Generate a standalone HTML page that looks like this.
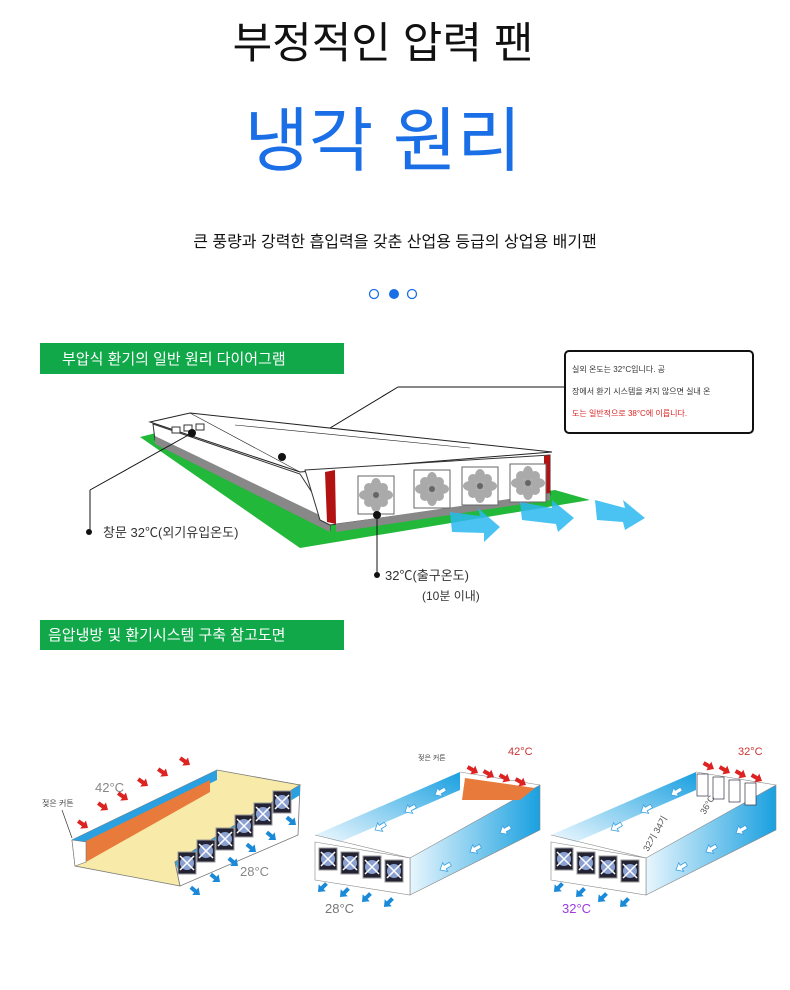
<!DOCTYPE html>
<html><head><meta charset="utf-8"><style>
body{margin:0;background:#fff;width:790px;height:990px;overflow:hidden;font-family:"Liberation Sans","Noto Sans CJK KR",sans-serif}
svg{display:block}
text{font-family:"Liberation Sans","Noto Sans CJK KR",sans-serif}
</style></head><body>
<svg width="790" height="990" viewBox="0 0 790 990" xmlns="http://www.w3.org/2000/svg">
<defs>
<linearGradient id="bl" x1="0" y1="0" x2="1" y2="0"><stop offset="0" stop-color="#e8f6fd"/><stop offset="1" stop-color="#1aa0e0"/></linearGradient>
<linearGradient id="bl2" x1="0" y1="1" x2="1" y2="0"><stop offset="0" stop-color="#f0f9ff"/><stop offset="1" stop-color="#1aa0e0"/></linearGradient>
<g id="fan"><rect x="0" y="0" width="18" height="22" fill="#223" stroke="#999" stroke-width="1"/><circle cx="9" cy="11" r="7" fill="#8aa0d0"/><path d="M2 4 L16 18 M16 4 L2 18" stroke="#fff" stroke-width="1.5"/></g>
<g id="bfan"><rect x="0" y="0" width="36" height="38" fill="#fff" stroke="#666"/><g fill="#aaa"><circle cx="18" cy="19" r="5"/><ellipse cx="18" cy="9" rx="5" ry="7"/><ellipse cx="18" cy="29" rx="5" ry="7"/><ellipse cx="8" cy="19" rx="7" ry="5"/><ellipse cx="28" cy="19" rx="7" ry="5"/><ellipse cx="11" cy="12" rx="5" ry="5"/><ellipse cx="25" cy="26" rx="5" ry="5"/><ellipse cx="25" cy="12" rx="5" ry="5"/><ellipse cx="11" cy="26" rx="5" ry="5"/></g><circle cx="18" cy="19" r="3" fill="#666"/></g>
<path id="ra" d="M0 0 L6 -5 L6 -2 L12 -2 L12 2 L6 2 L6 5 Z" fill="#d22"/>
<path id="ba" d="M0 0 L-6 -5 L-6 -2 L-12 -2 L-12 2 L-6 2 L-6 5 Z" fill="#1a8ad8"/>
<path id="wa" d="M0 0 L6 -5 L6 -2 L12 -2 L12 2 L6 2 L6 5 Z" fill="#fff" stroke="#3aa0e0" stroke-width="0.8"/>
</defs>

<text x="383" y="58" font-size="43" text-anchor="middle" fill="#111">부정적인 압력 팬</text>
<text x="383" y="165" font-size="70" text-anchor="middle" fill="#1a6fe6">냉각 원리</text>
<text x="395" y="247" font-size="16" text-anchor="middle" fill="#111">큰 풍량과 강력한 흡입력을 갖춘 산업용 등급의 상업용 배기팬</text>
<circle cx="374" cy="294" r="4.5" fill="none" stroke="#1a6fe6" stroke-width="1.3"/>
<circle cx="394" cy="294" r="5" fill="#1a6fe6"/>
<circle cx="412" cy="294" r="4.5" fill="none" stroke="#1a6fe6" stroke-width="1.3"/>

<rect x="40" y="343" width="304" height="31" fill="#11a84a"/>
<text x="62" y="364" font-size="15" fill="#fff">부압식 환기의 일반 원리 다이어그램</text>

<rect x="565" y="351" width="188" height="82" rx="4" fill="#fff" stroke="#111" stroke-width="2"/>
<text x="572" y="372" font-size="8" fill="#333">실외 온도는 32°C입니다. 공</text>
<text x="572" y="394" font-size="8" fill="#333">장에서 환기 시스템을 켜지 않으면 실내 온</text>
<text x="572" y="416" font-size="8" fill="#d22">도는 일반적으로 38°C에 이릅니다.</text>
<line x1="565" y1="387" x2="398" y2="387" stroke="#111"/>
<line x1="398" y1="387" x2="282" y2="457" stroke="#111"/>

<polygon points="140,437 160,432 330,522 555,490 590,500 300,548" fill="#22b83a"/>
<polygon points="153,424 300,474 330,520 330,530 155,440" fill="#fff" stroke="#333"/>
<polygon points="155,436 330,520 330,532 155,444" fill="#888"/>
<polygon points="150,422 190,413 552,452 300,472" fill="#fff" stroke="#222"/>
<line x1="190" y1="413" x2="300" y2="472" stroke="#222" stroke-width="0.6"/>
<line x1="235" y1="425" x2="470" y2="448" stroke="#222" stroke-width="0.6"/>
<rect x="172" y="427" width="8" height="6" fill="#fff" stroke="#333"/><rect x="184" y="425" width="8" height="6" fill="#fff" stroke="#333"/><rect x="196" y="424" width="8" height="6" fill="#fff" stroke="#333"/>
<polygon points="305,470 550,455 550,495 330,525 320,520" fill="#fff" stroke="#333"/>
<polygon points="325,472 335,470 336,524 327,522" fill="#b31212"/>
<polygon points="544,456 550,455 550,495 544,495" fill="#b31212"/>
<polygon points="336,524 550,493 550,500 336,532" fill="#888"/>
<use href="#bfan" x="358" y="476"/>
<use href="#bfan" x="414" y="470"/>
<use href="#bfan" x="462" y="467"/>
<use href="#bfan" x="510" y="464"/>
<g fill="#2bb8f0" opacity="0.85">
<polygon points="450,512 480,516 478,508 500,527 484,542 484,533 452,532"/>
<polygon points="520,502 552,508 552,500 574,518 558,532 556,524 522,520"/>
<polygon points="595,500 625,508 623,500 645,518 625,530 623,522 597,520"/>
</g>
<circle cx="192" cy="433" r="4" fill="#111"/>
<line x1="192" y1="433" x2="90" y2="490" stroke="#111"/>
<line x1="90" y1="490" x2="90" y2="530" stroke="#111"/>
<circle cx="89" cy="532" r="3" fill="#111"/>
<text x="103" y="537" font-size="13" fill="#333">창문 32℃(외기유입온도)</text>
<circle cx="282" cy="457" r="4" fill="#111"/>
<circle cx="377" cy="515" r="4" fill="#111"/>
<line x1="377" y1="515" x2="377" y2="575" stroke="#111"/>
<circle cx="377" cy="575" r="3" fill="#111"/>
<text x="385" y="580" font-size="13" fill="#333">32℃(출구온도)</text>
<text x="422" y="600" font-size="12" fill="#333">(10분 이내)</text>

<rect x="40" y="620" width="304" height="30" fill="#11a84a"/>
<text x="48" y="640" font-size="15" fill="#fff">음압냉방 및 환기시스템 구축 참고도면</text>

<!-- diagram 1 -->
<polygon points="72,840 217,770 300,785 175,862 180,886 75,866" fill="#f8eaa8" stroke="#777" stroke-width="0.8"/>
<polygon points="72,840 217,770 217,780 82,846" fill="#2aa0e0"/>
<polygon points="84,842 210,780 210,792 86,862" fill="#e87a3c"/>
<polygon points="72,840 86,842 86,862 75,866" fill="#fff" stroke="#777" stroke-width="0.6"/>
<polygon points="175,862 300,785 298,835 180,886" fill="#fff" stroke="#777" stroke-width="0.8"/>
<polygon points="175,862 300,785 300,795 178,870" fill="#2aa0e0"/>
<use href="#fan" x="178" y="852"/><use href="#fan" x="197" y="840"/><use href="#fan" x="216" y="828"/><use href="#fan" x="235" y="815"/><use href="#fan" x="254" y="803"/><use href="#fan" x="273" y="791"/>
<g><use href="#ra" transform="translate(88,828) rotate(-145)"/><use href="#ra" transform="translate(108,810) rotate(-145)"/><use href="#ra" transform="translate(128,800) rotate(-145)"/><use href="#ra" transform="translate(148,786) rotate(-145)"/><use href="#ra" transform="translate(168,776) rotate(-145)"/><use href="#ra" transform="translate(190,765) rotate(-145)"/></g>
<g><use href="#ba" transform="translate(200,895) rotate(40)"/><use href="#ba" transform="translate(220,882) rotate(40)"/><use href="#ba" transform="translate(238,866) rotate(40)"/><use href="#ba" transform="translate(256,852) rotate(40)"/><use href="#ba" transform="translate(276,840) rotate(40)"/><use href="#ba" transform="translate(296,825) rotate(40)"/></g>
<text x="95" y="792" font-size="13" fill="#888">42°C</text>
<text x="42" y="806" font-size="8" fill="#444">젖은 커튼</text>
<line x1="62" y1="810" x2="72" y2="838" stroke="#333" stroke-width="0.7"/>
<text x="240" y="876" font-size="13" fill="#888">28°C</text>

<!-- diagram 2 -->
<g id="d2">
<polygon points="315,835 460,772 540,785 410,858 410,895 315,880" fill="#fff"/>
<polygon points="315,835 460,772 460,790 340,842" fill="url(#bl2)"/>
<polygon points="410,858 540,785 540,830 410,895" fill="url(#bl)" stroke="#888" stroke-width="0.6"/>
<polygon points="315,842 410,858 410,895 315,880" fill="#fff" stroke="#888" stroke-width="0.6"/>
<line x1="315" y1="835" x2="410" y2="858" stroke="#888" stroke-width="0.6"/>
<line x1="460" y1="772" x2="540" y2="785" stroke="#888" stroke-width="0.6"/>
<use href="#fan" x="319" y="848"/><use href="#fan" x="341" y="852"/><use href="#fan" x="363" y="856"/><use href="#fan" x="385" y="860"/>
<g><use href="#ba" transform="translate(318,892) rotate(135)"/><use href="#ba" transform="translate(340,897) rotate(135)"/><use href="#ba" transform="translate(362,902) rotate(135)"/><use href="#ba" transform="translate(384,907) rotate(135)"/></g>
<g><use href="#wa" transform="translate(375,830) rotate(-30)"/><use href="#wa" transform="translate(405,812) rotate(-30)"/><use href="#wa" transform="translate(435,795) rotate(-30)"/><use href="#wa" transform="translate(440,870) rotate(-30)"/><use href="#wa" transform="translate(470,852) rotate(-30)"/><use href="#wa" transform="translate(500,833) rotate(-30)"/></g>
</g>
<polygon points="465,778 535,788 520,800 462,800" fill="#e87a3c"/>
<g><use href="#ra" transform="translate(478,773) rotate(-150)"/><use href="#ra" transform="translate(494,777) rotate(-150)"/><use href="#ra" transform="translate(510,781) rotate(-150)"/><use href="#ra" transform="translate(526,785) rotate(-150)"/></g>
<text x="508" y="755" font-size="11" fill="#c33">42°C</text>
<text x="418" y="760" font-size="7" fill="#444">젖은 커튼</text>
<text x="325" y="913" font-size="13" fill="#777">28°C</text>

<use href="#d2" x="236"/>
<g fill="#fff" stroke="#334" stroke-width="0.7"><rect x="697" y="774" width="11" height="22"/><rect x="713" y="777" width="11" height="22"/><rect x="729" y="780" width="11" height="22"/><rect x="745" y="783" width="11" height="22"/></g>
<g><use href="#ra" transform="translate(714,769) rotate(-150)"/><use href="#ra" transform="translate(730,773) rotate(-150)"/><use href="#ra" transform="translate(746,777) rotate(-150)"/><use href="#ra" transform="translate(762,781) rotate(-150)"/></g>
<text x="738" y="755" font-size="11" fill="#c33">32°C</text>
<text x="562" y="913" font-size="13" fill="#9b3be0">32°C</text>
<text x="648" y="852" font-size="9" fill="#555" transform="rotate(-60 648 852)">32기 34기</text>
<text x="705" y="815" font-size="9" fill="#555" transform="rotate(-60 705 815)">36°C</text>
</svg>
</body></html>
